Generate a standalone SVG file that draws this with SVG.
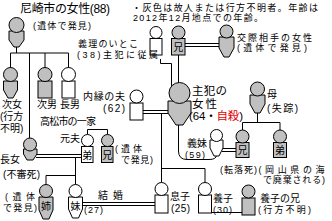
<svg xmlns="http://www.w3.org/2000/svg" width="332" height="221" viewBox="0 0 332 221">
<style>
text{font-family:"Liberation Sans","Noto Sans CJK JP",sans-serif;font-size:10px;fill:#000}
.big{font-size:11.5px}
.sm{font-size:9px}
.red{fill:#e00000}
.g{fill:#c0c0c0;stroke:#000;stroke-width:1}
.w{fill:#fff;stroke:#000;stroke-width:1}
.ln{fill:none;stroke:#000;stroke-width:1}
.in{text-anchor:middle;font-size:10px}
</style>
<rect width="332" height="221" fill="#fff"/>

<text style="font-size:12px" x="20" y="13" textLength="90">尼崎市の女性(88)</text>
<text class="sm" x="33" y="28.5" textLength="58">(遺体で発見)</text>
<text class="sm" x="132" y="10.5" textLength="186">・灰色は故人または行方不明者。年齢は</text>
<text class="sm" x="133" y="21" textLength="130">2012年12月地点での年齢。</text>

<g id="connectors">
  <path class="ln" d="M16.5,47 V53 M10.5,53 H68.5 M10.5,53 V68 M29.5,53 V138 M45,53 V68 M68.5,53 V68"/>
  <path class="ln" d="M160.5,59 V63.5 H171.5 V86"/>
  <path class="ln" d="M178.5,55 V83"/>
  <path class="ln" d="M185,43.5 H219 M185,46.5 H219"/>
  <path class="ln" d="M143,110.5 H168 M143,113.5 H168"/>
  <path class="ln" d="M161.5,113.5 V182.5 M161.5,168.5 H205 V182.5"/>
  <path class="ln" d="M178.5,125 V151 Q178.5,159.5 187,159.5 H209 Q216.5,159.5 216.5,155"/>
  <path class="ln" d="M222,148.5 H236 M222,151.5 H236"/>
  <path class="ln" d="M257.5,113 V122.5 M242.5,130 V122.5 H280 V130"/>
  <path class="ln" d="M87.5,134.5 V129.5 H107.5 V134.5"/>
  <path class="ln" d="M36,154.5 H82 M36,157.5 H82"/>
  <path class="ln" d="M75.5,157.5 V184.5 M75.5,175.5 H46 V184.5"/>
  <path class="ln" d="M82,202.5 H155 M82,205.5 H155"/>
  <path class="ln" d="M211,212.5 H242"/>
</g>

<g id="amagasaki-woman">
  <path class="g" d="M9,31 H24 V40 L19,47 H14 L9,40 Z"/>
  <circle class="g" cx="16.5" cy="25" r="7.5"/>
</g>
<g id="jijo">
  <path class="g" d="M3.5,81 H17.5 V90 L13,98 H8 L3.5,90 Z"/>
  <circle class="g" cx="10.5" cy="74.5" r="7"/>
  <text x="2" y="108">次女</text>
  <text x="0" y="120">(行方</text>
  <text x="0" y="132">不明)</text>
</g>
<g id="jinan">
  <rect class="g" x="38" y="81" width="14" height="17"/>
  <circle class="g" cx="45" cy="74.5" r="7"/>
  <text x="37" y="108">次男</text>
</g>
<g id="chonan">
  <rect class="w" x="62" y="81" width="13" height="17"/>
  <circle class="w" cx="68.5" cy="74.5" r="7"/>
  <text x="60" y="108">長男</text>
</g>

<g id="giri-itoko">
  <rect class="w" x="150" y="38.5" width="12" height="16.5"/>
  <circle class="w" cx="156" cy="32.5" r="6"/>
  <text class="sm" x="78" y="47" textLength="60">義理のいとこ</text>
  <text class="sm" x="77" y="58" textLength="81">(38)主犯に従属</text>
</g>
<g id="ani-top">
  <rect class="g" x="171.5" y="38.5" width="13.5" height="16.5"/>
  <circle class="g" cx="178.5" cy="32.5" r="6.5"/>
  <text class="in" x="178.3" y="51">兄</text>
</g>
<g id="partner-woman">
  <path class="g" d="M219,37 H234 V48 L229,57 H224 L219,48 Z"/>
  <circle class="g" cx="226.5" cy="31.5" r="6.5"/>
  <text class="sm" x="237" y="40.5" textLength="75">交際相手の女性</text>
  <text class="sm" x="237" y="50.5" textLength="70">(遺体で発見)</text>
</g>

<g id="main-woman">
  <path class="g" d="M168,101 H191 V113 L183,125 H176 L168,113 Z"/>
  <circle class="g" cx="179.5" cy="93" r="10.5"/>
  <text class="big" x="192" y="95" textLength="35">主犯の</text>
  <text class="big" x="192" y="107.5" textLength="25">女性</text>
  <text class="big" x="189" y="120" textLength="54">(64・<tspan class="red">自殺</tspan>)</text>
</g>

<g id="naien-husband">
  <rect class="w" x="130" y="103" width="13" height="17"/>
  <circle class="w" cx="136.5" cy="96.5" r="6.5"/>
  <text x="83" y="100" textLength="42">内縁の夫</text>
  <text x="103" y="112" textLength="22">(62)</text>
</g>

<g id="mother">
  <path class="g" d="M250,95 H265 V104 L260,113 H255 L250,104 Z"/>
  <circle class="g" cx="257.5" cy="89" r="7"/>
  <text x="267" y="98">母</text>
  <text x="267" y="112" textLength="31">(失踪)</text>
</g>

<g id="gimai">
  <path class="w" d="M210,140 H223 V148 L219,156 H214 L210,148 Z"/>
  <circle class="w" cx="216.5" cy="135.5" r="6"/>
  <text x="187" y="147">義妹</text>
  <text class="sm" x="185" y="157.5" textLength="20">(59)</text>
</g>
<g id="ani-fall">
  <rect class="g" x="236" y="142.5" width="13" height="15"/>
  <circle class="g" cx="242.5" cy="136.5" r="6.5"/>
  <text class="in" x="242.5" y="154">兄</text>
  <text class="sm" x="220" y="173" textLength="37">(転落死)</text>
</g>
<g id="ototo-okayama">
  <rect class="g" x="273.5" y="142.5" width="13" height="15"/>
  <circle class="g" cx="280" cy="136.5" r="6.5"/>
  <text class="in" x="280" y="154">弟</text>
  <text class="sm" x="258.5" y="173" textLength="66">(岡山県の海</text>
  <text class="sm" x="263" y="183" textLength="62">で廃棄される)</text>
</g>

<text x="40" y="125" textLength="56">高松市の一家</text>
<g id="moto-otto">
  <rect class="w" x="81.5" y="146.5" width="11.5" height="16"/>
  <circle class="w" cx="87.5" cy="140.5" r="6"/>
  <text class="in" x="87.3" y="158.5">弟</text>
  <text x="60" y="142">元夫</text>
</g>
<g id="ani-takamatsu">
  <rect class="g" x="101.5" y="146.5" width="11.5" height="16"/>
  <circle class="g" cx="107.5" cy="140.5" r="6"/>
  <text class="in" x="107.3" y="158.5">兄</text>
  <text class="sm" x="115" y="152" textLength="27">(遺体</text>
  <text class="sm" x="121" y="163" textLength="32">で発見)</text>
</g>

<g id="chojo">
  <path class="g" d="M23.5,149 H37 V154 L33,160 H27 L23.5,154 Z"/>
  <circle class="g" cx="30" cy="144.5" r="6.5"/>
  <text x="0" y="163">長女</text>
  <text x="3" y="178" textLength="37">(不審死)</text>
</g>

<g id="ane">
  <path class="g" d="M39,197 H53 V210 L49,219 H43 L39,210 Z"/>
  <circle class="g" cx="46" cy="191" r="6.5"/>
  <text class="in" x="46" y="210">姉</text>
  <text class="sm" x="5" y="200" textLength="30">(遺体</text>
  <text class="sm" x="3" y="211" textLength="34">で発見)</text>
</g>
<g id="imoto">
  <path class="w" d="M68.5,197 H82.5 V209 L78.5,218 H72.5 L68.5,209 Z"/>
  <circle class="w" cx="75.5" cy="191" r="6.5"/>
  <text class="in" x="75.5" y="210">妹</text>
  <text class="sm" x="84" y="213" textLength="19">(27)</text>
</g>
<text x="98" y="199" textLength="25">結 婚</text>

<g id="musuko">
  <rect class="w" x="155" y="195" width="13" height="18"/>
  <circle class="w" cx="161.5" cy="189" r="6.5"/>
  <text x="170" y="200">息子</text>
  <text x="171" y="212" textLength="19">(25)</text>
</g>
<g id="yoshi">
  <rect class="w" x="198.5" y="195" width="13" height="18"/>
  <circle class="w" cx="205" cy="189" r="6.5"/>
  <text x="213" y="202">養子</text>
  <text class="sm" x="213" y="213" textLength="19">(30)</text>
</g>
<g id="yoshi-ani">
  <rect class="g" x="242" y="198" width="13" height="17"/>
  <circle class="g" cx="248.5" cy="191.5" r="6.5"/>
  <text x="260" y="202">養子の兄</text>
  <text class="sm" x="258" y="213" textLength="53">(行方不明)</text>
</g>
</svg>
